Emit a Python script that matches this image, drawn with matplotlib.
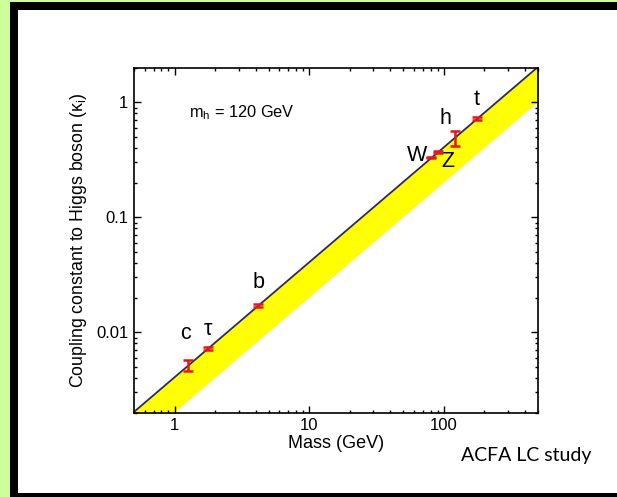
import numpy as np
import matplotlib.pyplot as plt
from matplotlib.patches import Rectangle
from matplotlib.ticker import FixedLocator, FixedFormatter, LogLocator, NullFormatter

plt.rcParams['font.family'] = ['Liberation Sans', 'DejaVu Sans']

# particle masses (GeV) and measured couplings with errors
names = ['c', 'τ', 'b', 'W', 'Z', 'h', 't']
mass = [1.25, 1.78, 4.2, 80.4, 91.2, 120.0, 175.0]
kappa = [0.0052, 0.0072, 0.0171, 0.331, 0.372, 0.49, 0.72]
kappa_err = [0.0006, 0.00025, 0.0004, 0.006, 0.007, 0.075, 0.025]

# label anchor positions (mass, coupling)
label_x = [1.2, 1.77, 4.2, 63.0, 107.0, 102.0, 176.0]
label_y = [0.0097, 0.0105, 0.027, 0.348, 0.303, 0.73, 1.05]

# SM expectation kappa = m / v, band down to half of it
m_range = np.array([0.5, 500.0])
vev = 246.0
kappa_sm = m_range / vev
kappa_low = kappa_sm / 2.0

fig = plt.figure(figsize=(6.17, 4.97), dpi=100)
fig.patch.set_facecolor('#ccff99')
fig.patches.append(Rectangle((10/617, 0), 1, 495/497, transform=fig.transFigure,
                             facecolor='black', edgecolor='none', zorder=-2))
fig.patches.append(Rectangle((18/617, 4/497), 1, 483/497, transform=fig.transFigure,
                             facecolor='white', edgecolor='none', zorder=-1))

ax = fig.add_axes([134/617, 84.3/497, 404/617, 345/497])
ax.set_xscale('log')
ax.set_yscale('log')
ax.set_xlim(0.5, 500)
ax.set_ylim(0.002, 2)

ax.fill_between(m_range, kappa_low, kappa_sm, color='#ffff00', lw=0, zorder=1)
ax.plot(m_range, kappa_sm, color='#262680', lw=1.3, zorder=2)

ax.errorbar(mass, kappa, yerr=kappa_err, fmt='none', ecolor='#e8141c',
            elinewidth=1.8, capsize=3.5, capthick=1.8, zorder=3)

for n, x, y in zip(names, label_x, label_y):
    ax.text(x, y, n, fontsize=15.5, ha='center', va='center', color='black')

ax.text(1.28, 0.81, r'm$_\mathregular{h}$ = 120 GeV', fontsize=11.8,
        ha='left', va='center')

ax.xaxis.set_major_locator(FixedLocator([1, 10, 100]))
ax.xaxis.set_major_formatter(FixedFormatter(['1', '10', '100']))
ax.yaxis.set_major_locator(FixedLocator([0.01, 0.1, 1]))
ax.yaxis.set_major_formatter(FixedFormatter(['0.01', '0.1', '1']))
for axis in (ax.xaxis, ax.yaxis):
    axis.set_minor_locator(LogLocator(base=10, subs=np.arange(2, 10)))
    axis.set_minor_formatter(NullFormatter())

ax.tick_params(which='both', direction='in', top=True, right=True, width=1)
ax.tick_params(which='major', length=5, labelsize=12, pad=4)
ax.tick_params(which='minor', length=2.5)
for s in ax.spines.values():
    s.set_linewidth(1.2)

ax.set_xlabel('Mass (GeV)', fontsize=13, labelpad=1)
ax.set_ylabel('Coupling constant to Higgs boson (κ$_\\mathregular{i}$)', fontsize=12.8,
              labelpad=5)

fig.text(461/617, 1 - 456/497, 'ACFA LC study', fontsize=14, family='Lato',
         ha='left', va='center')

fig.savefig('out.png', dpi=100, facecolor=fig.get_facecolor())
